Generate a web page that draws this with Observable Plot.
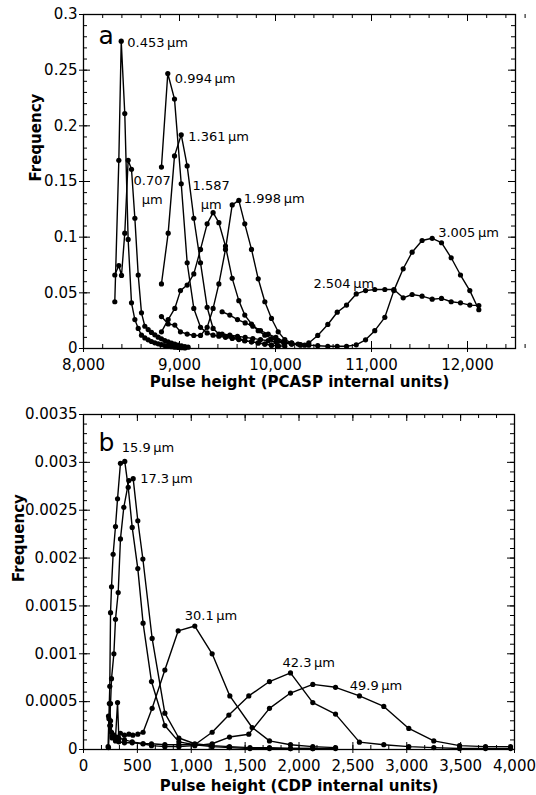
<!DOCTYPE html>
<html><head><meta charset="utf-8">
<script src="https://cdn.jsdelivr.net/npm/d3@7"></script>
<script src="https://cdn.jsdelivr.net/npm/@observablehq/plot@0.6"></script>
<style>
html,body{margin:0;padding:0;background:#fff;}
#chart svg{display:block;}
</style></head><body><div id="chart"></div>
<script>
// ---------- Panel a (PCASP) ----------
const a_x_0453 = [8326, 8368, 8393, 8430, 8465, 8500, 8535, 8570, 8604, 8639, 8674, 8708, 8743, 8778, 8812, 8847, 8882, 8917, 8951, 8986, 9021, 9056];
const a_y_0453 = [0.042, 0.169, 0.276, 0.211, 0.098, 0.041, 0.026, 0.018, 0.012, 0.0095, 0.0078, 0.0063, 0.0051, 0.0042, 0.0034, 0.0027, 0.0021, 0.0016, 0.0012, 0.0009, 0.0007, 0.0005];
const a_x_0707 = [8326, 8368, 8396, 8430, 8465, 8500, 8535, 8570, 8604, 8639, 8674, 8708, 8743, 8778, 8812, 8847, 8882, 8917, 8951, 8986, 9021, 9056, 9090];
const a_y_0707 = [0.066, 0.0745, 0.0656, 0.1036, 0.169, 0.161, 0.117, 0.066, 0.032, 0.020, 0.017, 0.0144, 0.0123, 0.0102, 0.0087, 0.0072, 0.006, 0.0048, 0.0039, 0.003, 0.0024, 0.0018, 0.0012];
const a_x_0994 = [8812, 8878, 8948, 9018, 9080, 9149, 9219, 9288, 9350, 9410, 9479, 9549, 9618, 9680, 9750, 9820, 9889, 9958, 10028];
const a_y_0994 = [0.163, 0.247, 0.224, 0.148, 0.077, 0.036, 0.019, 0.014, 0.012, 0.011, 0.010, 0.009, 0.008, 0.007, 0.006, 0.005, 0.004, 0.003, 0.002];
const a_x_1361 = [8812, 8882, 8948, 9018, 9080, 9149, 9219, 9288, 9350, 9410, 9479, 9549, 9618, 9680, 9750, 9820, 9889, 9958, 10028, 10097];
const a_y_1361 = [0.058, 0.1036, 0.173, 0.192, 0.164, 0.117, 0.077, 0.037, 0.018, 0.013, 0.011, 0.010, 0.0085, 0.007, 0.006, 0.005, 0.004, 0.003, 0.0025, 0.002];
const a_x_1587 = [8812, 8882, 8951, 9010, 9080, 9149, 9219, 9288, 9350, 9410, 9479, 9549, 9618, 9680, 9750, 9820, 9889, 9958, 10028, 10097, 10166];
const a_y_1587 = [0.015, 0.026, 0.036, 0.052, 0.057, 0.067, 0.089, 0.112, 0.122, 0.113, 0.092, 0.063, 0.043, 0.030, 0.022, 0.016, 0.012, 0.009, 0.007, 0.005, 0.004];
const a_x_1998 = [8812, 8882, 8951, 9010, 9080, 9149, 9219, 9288, 9350, 9410, 9479, 9549, 9618, 9680, 9750, 9820, 9889, 9958, 10028, 10097, 10166, 10235, 10304];
const a_y_1998 = [0.0287, 0.022, 0.021, 0.015, 0.013, 0.0117, 0.0117, 0.019, 0.036, 0.058, 0.089, 0.129, 0.133, 0.112, 0.089, 0.0626, 0.042, 0.027, 0.015, 0.008, 0.005, 0.004, 0.003];
const a_x_2504 = [9444, 9524, 9604, 9684, 9764, 9844, 9924, 10004, 10086, 10170, 10260, 10347, 10440, 10545, 10643, 10740, 10841, 10938, 11034, 11139, 11233, 11330, 11423, 11527, 11632, 11729, 11830, 11927, 12024, 12118];
const a_y_2504 = [0.033, 0.030, 0.026, 0.023, 0.020, 0.016, 0.013, 0.010, 0.0063, 0.0048, 0.003, 0.005, 0.0117, 0.0216, 0.0326, 0.039, 0.049, 0.052, 0.053, 0.053, 0.053, 0.0455, 0.0485, 0.047, 0.0443, 0.045, 0.042, 0.041, 0.039, 0.0386];
const a_x_3005 = [9444, 9524, 9604, 9684, 9764, 9844, 9924, 10004, 10086, 10170, 10260, 10347, 10440, 10545, 10643, 10740, 10841, 10938, 11034, 11139, 11233, 11330, 11423, 11527, 11632, 11729, 11830, 11927, 12024, 12118];
const a_y_3005 = [0.013, 0.012, 0.011, 0.010, 0.009, 0.008, 0.007, 0.006, 0.005, 0.004, 0.0035, 0.003, 0.0025, 0.002, 0.002, 0.002, 0.0033, 0.0078, 0.016, 0.028, 0.052, 0.0716, 0.0865, 0.097, 0.099, 0.095, 0.0815, 0.066, 0.052, 0.0348];

const a_names = ["0.453\u2009μm", "0.707\nμm", "0.994\u2009μm", "1.361\u2009μm", "1.587\nμm", "1.998\u2009μm", "2.504\u2009μm", "3.005\u2009μm"];
const a_xTicks = [8000, 9000, 10000, 11000, 12000];
const a_yTicks = [0, 0.05, 0.1, 0.15, 0.2, 0.25, 0.3];

// ---------- Panel b (CDP) ----------
const b_x_159 = [228, 244, 251, 260, 275, 297, 316, 343, 383, 415, 452, 504, 553, 631, 755, 885, 1033, 1194, 1355, 1545, 1726, 1921, 2128];
const b_y_159 = [0.00003, 0.00066, 0.00143, 0.0017, 0.00204, 0.00233, 0.00262, 0.00299, 0.00301, 0.00274, 0.00232, 0.00189, 0.00132, 0.00071, 0.00025, 0.00008, 0.00005, 0.00003, 0.00002, 0.00001, 0.00001, 0.00001, 0.00001];
const b_x_173 = [232, 251, 260, 282, 297, 322, 343, 374, 421, 461, 504, 551, 637, 755, 885, 1033, 1194, 1355, 1545, 1726, 1921, 2128, 2339];
const b_y_173 = [0.00002, 0.00048, 0.00074, 0.001, 0.00136, 0.00164, 0.0022, 0.00253, 0.00281, 0.00283, 0.00239, 0.00199, 0.00116, 0.00038, 0.00012, 0.00006, 0.00004, 0.00003, 0.00002, 0.00002, 0.00001, 0.00001, 0.00001];
const b_x_301 = [232, 244, 260, 282, 313, 343, 380, 421, 458, 504, 553, 637, 755, 879, 1033, 1194, 1358, 1565, 1726, 1921, 2128, 2339];
const b_y_301 = [0.00035, 0.00025, 0.00018, 0.00015, 0.00013, 0.00017, 0.00015, 0.00016, 0.00015, 0.00016, 0.00018, 0.00043, 0.00083, 0.00124, 0.00129, 0.001, 0.00056, 0.00023, 0.00009, 0.00005, 0.00003, 0.00002];
const b_x_423 = [236, 251, 266, 297, 328, 380, 452, 553, 631, 755, 885, 1033, 1194, 1349, 1534, 1726, 1921, 2128, 2339, 2561, 2787, 3019, 3251, 3490, 3731, 3963];
const b_y_423 = [0.00032, 0.00025, 0.00012, 0.00009, 0.00008, 0.00007, 0.00007, 0.00006, 0.00006, 0.00005, 0.00005, 0.00005, 0.00018, 0.00036, 0.00056, 0.00071, 0.0008, 0.00049, 0.00037, 0.000077, 0.00005, 0.00003, 0.00002, 0.00001, 0.00001, 0.00001];
const b_x_499 = [240, 251, 266, 297, 316, 328, 380, 452, 553, 631, 755, 885, 1033, 1194, 1355, 1534, 1726, 1921, 2128, 2339, 2561, 2787, 3019, 3251, 3490, 3731, 3963];
const b_y_499 = [0.00048, 0.0003, 0.00014, 0.00012, 0.00049, 0.00012, 0.0001, 0.00008, 0.00006, 0.00004, 0.00003, 0.00003, 0.00004, 0.00006, 0.00013, 0.00016, 0.00043, 0.00059, 0.00068, 0.00065, 0.00056, 0.00045, 0.00022, 0.00009, 0.00004, 0.00003, 0.00003];

const b_names = ["15.9\u2009μm", "17.3\u2009μm", "30.1\u2009μm", "42.3\u2009μm", "49.9\u2009μm"];
const b_xTicks = [0, 500, 1000, 1500, 2000, 2500, 3000, 3500, 4000];
const b_yTicks = [0, 0.0005, 0.001, 0.0015, 0.002, 0.0025, 0.003, 0.0035];

// ---------- build ----------
const FONT = "'DejaVu Sans', Verdana, sans-serif";
function rows(name, xs, ys) { return xs.map((x, i) => ({name, x, y: ys[i]})); }

const aRows = [
  ...rows(a_names[0], a_x_0453, a_y_0453), ...rows(a_names[1], a_x_0707, a_y_0707),
  ...rows(a_names[2], a_x_0994, a_y_0994), ...rows(a_names[3], a_x_1361, a_y_1361),
  ...rows(a_names[4], a_x_1587, a_y_1587), ...rows(a_names[5], a_x_1998, a_y_1998),
  ...rows(a_names[6], a_x_2504, a_y_2504), ...rows(a_names[7], a_x_3005, a_y_3005)
];
const bRows = [
  ...rows(b_names[0], b_x_159, b_y_159), ...rows(b_names[1], b_x_173, b_y_173),
  ...rows(b_names[2], b_x_301, b_y_301), ...rows(b_names[3], b_x_423, b_y_423),
  ...rows(b_names[4], b_x_499, b_y_499)
];

function minor(lo, hi, step) { const n = Math.round((hi - lo) / step); return d3.range(n + 1).map(i => +(lo + i * step).toPrecision(10)); }

function panel(o) {
  const width = 536, ml = 83, mr = o.mr, mt = o.mt, mb = o.mb, height = o.height;
  const pw = width - ml - mr, ph = height - mt - mb;
  const labelMarks = o.labels.map(c => {
    const pts = o.data.filter(r => r.name === c.name);
    const p = pts.reduce((a, b) => (b.y > a.y ? b : a));
    return Plot.text([p], {x: "x", y: "y", text: d => d.name, dx: c.dx, dy: c.dy,
      textAnchor: c.anchor || "start", lineAnchor: "middle", lineHeight: 1.45, fontSize: 13});
  });
  const tk = (vals, axis, side, len, out = 0) => {
    if (axis === "y") return side === "left"
      ? Plot.ruleY(vals, {insetLeft: -out, insetRight: pw - len, stroke: "#000", strokeWidth: 1})
      : Plot.ruleY(vals, {insetLeft: pw - len, insetRight: -out, stroke: "#000", strokeWidth: 1});
    return side === "top"
      ? Plot.ruleX(vals, {insetTop: -out, insetBottom: ph - len, stroke: "#000", strokeWidth: 1})
      : Plot.ruleX(vals, {insetTop: ph - len, insetBottom: -out, stroke: "#000", strokeWidth: 1});
  };
  return Plot.plot({
    width, height, marginLeft: ml, marginRight: mr, marginTop: mt, marginBottom: mb,
    style: {fontFamily: FONT, fontSize: "15px", color: "#000", background: "#fff", overflow: "visible"},
    x: {domain: o.xDomain}, y: {domain: o.yDomain},
    marks: [
      tk(o.yMinor, "y", "left", 4), tk(o.yMinor, "y", "right", 4),
      tk(o.xMinor, "x", "top", 4), tk(o.xMinor, "x", "bottom", 4),
      tk(o.yTicks, "y", "left", 7, 4), tk(o.yTicks, "y", "right", 7),
      tk(o.xTicks, "x", "top", 7), tk(o.xTicks, "x", "bottom", 7, 4),
      Plot.frame({stroke: "#000", strokeWidth: 1.3}),
      Plot.axisX(o.xTicks, {tickSize: 0, tickPadding: 11, tickFormat: d3.format(","), label: null, fontSize: 15}),
      Plot.axisY(o.yTicks, {tickSize: 0, tickPadding: 6, tickFormat: d => String(d), label: null, fontSize: 15}),
      Plot.line(o.data, {x: "x", y: "y", z: "name", stroke: "#000", strokeWidth: 1.4}),
      Plot.dot(o.data, {x: "x", y: "y", r: 2.6, fill: "#000", stroke: "none"}),
      ...labelMarks,
      Plot.text([o.letter], {text: d => d, frameAnchor: "top-left", dx: 15, dy: o.letterDy, fontSize: 25, textAnchor: "start", lineAnchor: "bottom"}),
      Plot.text([o.xLabel], {text: d => d, frameAnchor: "bottom", dy: o.titleDy, fontWeight: "bold", fontSize: 15, lineAnchor: "middle"}),
      Plot.text(["Frequency"], {text: d => d, frameAnchor: "left", dx: o.yTitleDx, rotate: -90, fontWeight: "bold", fontSize: 15, lineAnchor: "middle"})
    ]
  });
}

const chartA = panel({
  data: aRows, height: 395, mt: 14, mb: 47, mr: 21,
  xDomain: [8000, 12500], yDomain: [0, 0.3],
  xTicks: a_xTicks, yTicks: a_yTicks,
  xMinor: minor(8000, 12500, 200), yMinor: minor(0, 0.3, 0.01),
  letter: "a", letterDy: 29, xLabel: "Pulse height (PCASP internal units)", titleDy: 34, yTitleDx: -47,
  labels: [
    {name: a_names[0], dx: 6, dy: 0},
    {name: a_names[1], dx: 24, dy: 28, anchor: "middle"},
    {name: a_names[2], dx: 7, dy: 3},
    {name: a_names[3], dx: 7, dy: 0},
    {name: a_names[4], dx: -2, dy: -19, anchor: "middle"},
    {name: a_names[5], dx: 5, dy: -3},
    {name: a_names[6], dx: -31, dy: -8, anchor: "middle"},
    {name: a_names[7], dx: 6, dy: -7}
  ]
});
const chartB = panel({
  data: bRows, height: 400, mt: 19, mb: 46, mr: 22,
  xDomain: [0, 4000], yDomain: [0, 0.0035],
  xTicks: b_xTicks, yTicks: b_yTicks,
  xMinor: minor(0, 4000, 500 / 3), yMinor: minor(0, 0.0035, 0.0001),
  letter: "b", letterDy: 36, xLabel: "Pulse height (CDP internal units)", titleDy: 37, yTitleDx: -64,
  labels: [
    {name: b_names[0], dx: -3, dy: -15},
    {name: b_names[1], dx: 7, dy: -2},
    {name: b_names[2], dx: -10, dy: -12},
    {name: b_names[3], dx: -8, dy: -12},
    {name: b_names[4], dx: 37, dy: 0}
  ]
});
document.getElementById("chart").append(chartA, chartB);
</script></body></html>
